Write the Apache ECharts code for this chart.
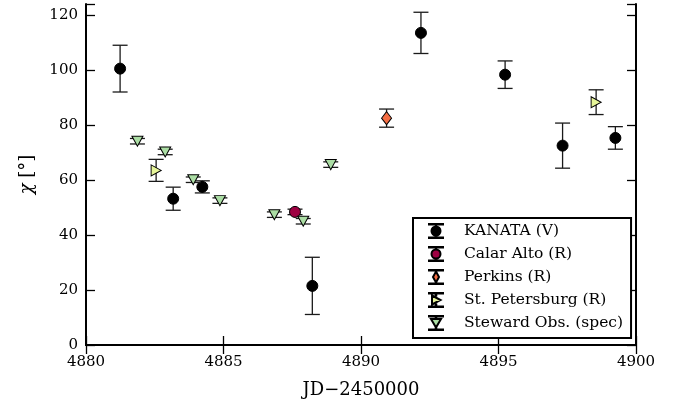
<!DOCTYPE html>
<html>
<head>
<meta charset="utf-8">
<script src="https://cdn.jsdelivr.net/npm/echarts@6/dist/echarts.min.js"></script>
<style>
html,body{margin:0;padding:0;background:#fff;}
#chart{width:681px;height:405px;}
</style>
</head>
<body>
<div id="chart"></div>
<script>
// ---- data ----
const seriesNames = ['KANATA (V)', 'Calar Alto (R)', 'Perkins (R)', 'St. Petersburg (R)', 'Steward Obs. (spec)'];

const kanataX   = [4881.24, 4883.17, 4884.23, 4888.23, 4892.18, 4895.24, 4897.33, 4899.25];
const kanataY   = [100.5, 53.2, 57.5, 21.5, 113.5, 98.3, 72.5, 75.3];
const kanataErr = [8.5, 4.2, 2.2, 10.4, 7.5, 5.0, 8.2, 4.1];

const calarX   = [4887.6];
const calarY   = [48.4];
const calarErr = [1.0];

const perkinsX   = [4890.93];
const perkinsY   = [82.5];
const perkinsErr = [3.3];

const stpX   = [4882.55, 4898.55];
const stpY   = [63.5, 88.3];
const stpErr = [4.0, 4.5];

const stewX   = [4881.87, 4882.88, 4883.9, 4884.87, 4886.85, 4887.9, 4888.9];
const stewY   = [74.1, 70.2, 60.1, 52.5, 47.4, 45.0, 65.6];
const stewErr = [1.0, 1.0, 1.0, 1.0, 1.0, 1.0, 1.0];

const xTicks = [4880, 4885, 4890, 4895, 4900];
const yTicks = [0, 20, 40, 60, 80, 100, 120];

// ---- helpers ----
const FONT = 'DejaVu Serif';
function pts(xs, ys) { return xs.map((x, i) => [x, ys[i]]); }
function errPts(xs, ys, es) { return xs.map((x, i) => [x, ys[i], es[i]]); }

function errRender(params, api) {
  const x = api.value(0), y = api.value(1), e = api.value(2);
  const lo = api.coord([x, y - e]);
  const hi = api.coord([x, y + e]);
  const h = 7.5;
  const st = { stroke: '#1a1a1a', lineWidth: 1.3 };
  return {
    type: 'group',
    children: [
      { type: 'line', shape: { x1: lo[0], y1: lo[1], x2: hi[0], y2: hi[1] }, style: st },
      { type: 'line', shape: { x1: lo[0] - h, y1: lo[1], x2: lo[0] + h, y2: lo[1] }, style: st },
      { type: 'line', shape: { x1: hi[0] - h, y1: hi[1], x2: hi[0] + h, y2: hi[1] }, style: st }
    ]
  };
}

const colors = ['#000000', '#9e0142', '#f46d43', '#e6f598', '#abdda4'];
const symbols = [
  'circle',
  'circle',
  'diamond',
  'path://M0 0 L10 5 L0 10 Z',
  'path://M0 0 L10 0 L5 9 Z'
];
const symbolSizes = [11, 11, [10, 13], [10, 11], [11, 10]];

// legend icons with error bars (16 x 14 box)
const capTop = 'M1 0 L15 0 L15 0.6 L1 0.6 Z ';
const capBot = 'M1 13.4 L15 13.4 L15 14 L1 14 Z ';
function stems(a, b) {
  return 'M7.7 0.6 L8.3 0.6 L8.3 ' + a + ' L7.7 ' + a + ' Z M7.7 ' + b + ' L8.3 ' + b + ' L8.3 13.4 L7.7 13.4 Z ';
}
const legendIcons = [
  'path://' + capTop + capBot + stems(2.5, 11.5) + 'M3.5 7 A4.5 4.5 0 1 0 12.5 7 A4.5 4.5 0 1 0 3.5 7 Z',
  'path://' + capTop + capBot + stems(2.5, 11.5) + 'M3.5 7 A4.5 4.5 0 1 0 12.5 7 A4.5 4.5 0 1 0 3.5 7 Z',
  'path://' + capTop + capBot + stems(1.5, 12.5) + 'M8 1.5 L11 7 L8 12.5 L5 7 Z',
  'path://' + capTop + capBot + stems(2.5, 11.5) + 'M4 2.5 L12.5 7 L4 11.5 Z',
  'path://' + capTop + capBot + stems(3, 11.5) + 'M3 3 L13 3 L8 11.5 Z'
];

const groups = [
  [kanataX, kanataY, kanataErr],
  [calarX, calarY, calarErr],
  [perkinsX, perkinsY, perkinsErr],
  [stpX, stpY, stpErr],
  [stewX, stewY, stewErr]
];

const series = [];
groups.forEach((g, i) => {
  series.push({
    type: 'custom',
    name: seriesNames[i] + ' err',
    renderItem: errRender,
    data: errPts(g[0], g[1], g[2]),
    encode: { x: 0, y: 1 },
    z: 2 + i * 2,
    silent: true
  });
  series.push({
    type: 'scatter',
    name: seriesNames[i],
    data: pts(g[0], g[1]),
    symbol: symbols[i],
    symbolSize: symbolSizes[i],
    itemStyle: { color: colors[i], borderColor: '#000', borderWidth: 1, opacity: 1 },
    z: 3 + i * 2
  });
});

const axisLineStyle = { show: true, lineStyle: { color: '#000', width: 2 } };
const tickStyle = { show: true, inside: true, length: 9, lineStyle: { color: '#000', width: 1.3 } };

const option = {
  animation: false,
  backgroundColor: '#fff',
  grid: { left: 86, right: 45, top: 4, bottom: 60, containLabel: false },
  xAxis: [
    {
      type: 'value', min: xTicks[0], max: xTicks[xTicks.length - 1], interval: 5,
      position: 'bottom',
      axisLine: axisLineStyle, axisTick: tickStyle, splitLine: { show: false },
      axisLabel: { color: '#000', fontFamily: FONT, fontSize: 15, margin: 10, formatter: v => String(v) },
      name: 'JD\u22122450000', nameLocation: 'middle', nameGap: 36,
      nameTextStyle: { color: '#000', fontFamily: FONT, fontSize: 18 }
    },
    {
      type: 'value', min: xTicks[0], max: xTicks[xTicks.length - 1], interval: 5,
      position: 'top',
      axisLine: axisLineStyle, axisTick: tickStyle, splitLine: { show: false },
      axisLabel: { show: false }
    }
  ],
  yAxis: [
    {
      type: 'value', min: 0, max: 124, interval: 20,
      position: 'left',
      axisLine: axisLineStyle, axisTick: tickStyle, splitLine: { show: false },
      axisLabel: {
        color: '#000', fontFamily: FONT, fontSize: 15, margin: 8,
        showMaxLabel: true,
        formatter: v => (yTicks.indexOf(v) >= 0 ? String(v) : '')
      },
      name: '{i|\u03c7} [\u00b0]', nameLocation: 'middle', nameGap: 50, nameRotate: 90,
      nameTextStyle: {
        color: '#000', fontFamily: FONT, fontSize: 18,
        rich: { i: { fontFamily: FONT, fontStyle: 'italic', fontSize: 18, color: '#000' } }
      }
    },
    {
      type: 'value', min: 0, max: 124, interval: 20,
      position: 'right',
      axisLine: axisLineStyle, axisTick: tickStyle, splitLine: { show: false },
      axisLabel: { show: false }
    }
  ],
  legend: {
    orient: 'vertical',
    left: 413, top: 218,
    padding: [5, 8, 7, 15],
    itemGap: 7,
    itemWidth: 16, itemHeight: 14,
    symbolKeepAspect: true,
    borderColor: '#000', borderWidth: 2, borderRadius: 0,
    backgroundColor: '#fff',
    selectedMode: false,
    textStyle: { color: '#000', fontFamily: FONT, fontSize: 15.5, lineHeight: 15, padding: [0, 0, 0, 15] },
    data: seriesNames.map((n, i) => ({ name: n, icon: legendIcons[i] }))
  },
  series: series
};

const chart = echarts.init(document.getElementById('chart'), null, { renderer: 'canvas' });
chart.setOption(option);
</script>
</body>
</html>
